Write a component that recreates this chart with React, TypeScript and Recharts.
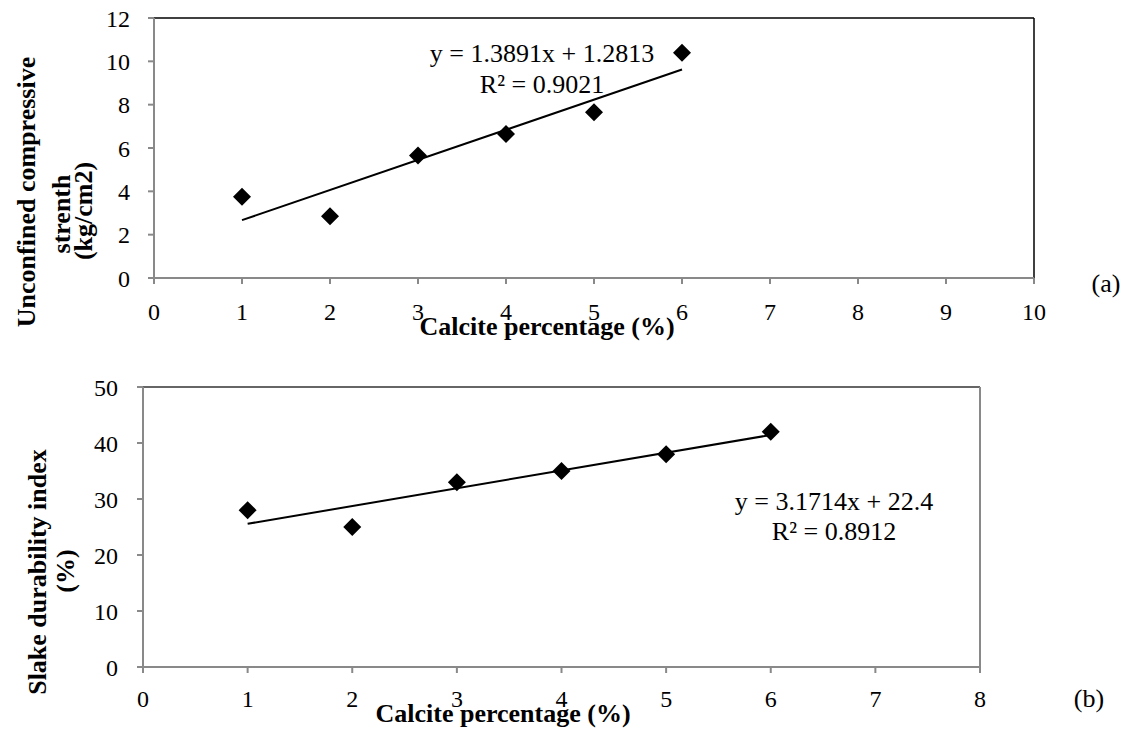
import React from "react";
import { ComposedChart, Scatter, XAxis, YAxis, ReferenceLine } from "recharts";

const calcitePct = [1, 2, 3, 4, 5, 6];
const ucsValues = [3.75, 2.85, 5.65, 6.65, 7.65, 10.4];
const sdiValues = [28, 25, 33, 35, 38, 42];

// trendline end points (x = 1 and x = 6) from the fitted equations
const trendX = [1, 6];
const ucsTrend = [2.67, 9.62];
const sdiTrend = [25.57, 41.43];

const xTicksA = [0, 1, 2, 3, 4, 5, 6, 7, 8, 9, 10];
const yTicksA = [0, 2, 4, 6, 8, 10, 12];
const xTicksB = [0, 1, 2, 3, 4, 5, 6, 7, 8];
const yTicksB = [0, 10, 20, 30, 40, 50];

const FONT = "'Liberation Serif', 'Times New Roman', serif";
const GREY = "#898989";

const ucsData = calcitePct.map((x, i) => ({ x, y: ucsValues[i] }));
const sdiData = calcitePct.map((x, i) => ({ x, y: sdiValues[i] }));
const ucsLine = trendX.map((x, i) => ({ x, y: ucsTrend[i] }));
const sdiLine = trendX.map((x, i) => ({ x, y: sdiTrend[i] }));

const Diamond = (props: any) => {
  const { cx, cy } = props;
  const r = 9;
  return (
    <polygon
      points={`${cx},${cy - r} ${cx + r},${cy} ${cx},${cy + r} ${cx - r},${cy}`}
      fill="#000"
    />
  );
};

const tickStyle = { fill: "#000", fontSize: 24, fontFamily: FONT };
const lineStyle = { stroke: GREY, strokeWidth: 2 };

export default function App() {
  return (
    <div style={{ position: "absolute", left: 0, top: 0, width: 1126, height: 731, background: "#fff" }}>
      <ComposedChart width={1126} height={345} margin={{ top: 18, right: 92, bottom: 27, left: 0 }}>
        <XAxis
          type="number"
          dataKey="x"
          domain={[0, 10]}
          ticks={xTicksA}
          interval={0}
          height={40}
          tick={tickStyle}
          tickSize={6}
          tickMargin={19}
          axisLine={lineStyle}
          tickLine={lineStyle}
        />
        <YAxis
          type="number"
          dataKey="y"
          domain={[0, 12]}
          ticks={yTicksA}
          interval={0}
          width={154}
          tick={tickStyle}
          tickSize={6}
          tickMargin={18}
          axisLine={lineStyle}
          tickLine={lineStyle}
        />
        <ReferenceLine y={12} stroke="#000" strokeWidth={1.5} />
        <ReferenceLine x={10} stroke="#000" strokeWidth={1.5} />
        <ReferenceLine segment={ucsLine} stroke="#000" strokeWidth={2} />
        <Scatter data={ucsData} shape={Diamond} isAnimationActive={false} />
      </ComposedChart>
      <ComposedChart width={1126} height={386} margin={{ top: 42, right: 146, bottom: 24, left: 0 }}>
        <XAxis
          type="number"
          dataKey="x"
          domain={[0, 8]}
          ticks={xTicksB}
          interval={0}
          height={40}
          tick={tickStyle}
          tickSize={6}
          tickMargin={17}
          axisLine={lineStyle}
          tickLine={lineStyle}
        />
        <YAxis
          type="number"
          dataKey="y"
          domain={[0, 50]}
          ticks={yTicksB}
          interval={0}
          width={143}
          tick={tickStyle}
          tickSize={6}
          tickMargin={19}
          axisLine={lineStyle}
          tickLine={lineStyle}
        />
        <ReferenceLine y={50} stroke="#333" strokeWidth={1.5} />
        <ReferenceLine x={8} stroke={GREY} strokeWidth={2} />
        <ReferenceLine segment={sdiLine} stroke="#000" strokeWidth={2} />
        <Scatter data={sdiData} shape={Diamond} isAnimationActive={false} />
      </ComposedChart>

      <svg
        width={1126}
        height={731}
        style={{ position: "absolute", left: 0, top: 0, pointerEvents: "none" }}
        fontFamily={FONT}
      >
        {/* chart (a) */}
        <text x={547} y={335} textAnchor="middle" fontSize={26} fontWeight="bold">
          Calcite percentage (%)
        </text>
        <text transform="translate(35,192) rotate(-90)" textAnchor="middle" fontSize={26} fontWeight="bold">
          Unconfined compressive
        </text>
        <text transform="translate(70,214) rotate(-90)" textAnchor="middle" fontSize={26} fontWeight="bold">
          strenth
        </text>
        <text transform="translate(92,211) rotate(-90)" textAnchor="middle" fontSize={26} fontWeight="bold">
          (kg/cm2)
        </text>
        <text x={542} y={62} textAnchor="middle" fontSize={26}>
          y = 1.3891x + 1.2813
        </text>
        <text x={542} y={93} textAnchor="middle" fontSize={26}>
          R² = 0.9021
        </text>
        <text x={1106} y={292} textAnchor="middle" fontSize={26}>
          (a)
        </text>

        {/* chart (b) */}
        <text x={503} y={722} textAnchor="middle" fontSize={26} fontWeight="bold">
          Calcite percentage (%)
        </text>
        <text transform="translate(46,572) rotate(-90)" textAnchor="middle" fontSize={26} fontWeight="bold">
          Slake durability index
        </text>
        <text transform="translate(74,571) rotate(-90)" textAnchor="middle" fontSize={26} fontWeight="bold">
          (%)
        </text>
        <text x={834} y={510} textAnchor="middle" fontSize={26}>
          y = 3.1714x + 22.4
        </text>
        <text x={834} y={540} textAnchor="middle" fontSize={26}>
          R² = 0.8912
        </text>
        <text x={1089} y={707} textAnchor="middle" fontSize={26}>
          (b)
        </text>
      </svg>
    </div>
  );
}
